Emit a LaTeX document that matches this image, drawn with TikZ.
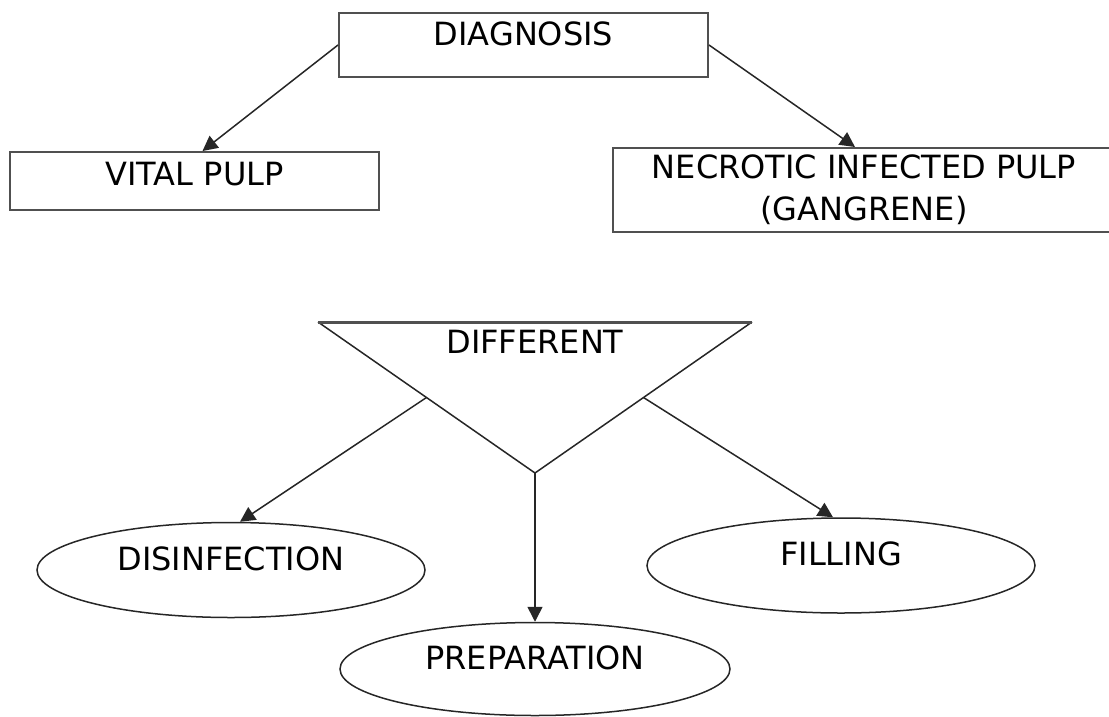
\documentclass[tikz,border=0pt]{standalone}
\usepackage{fontspec}
\setmainfont{DejaVu Sans}
\usetikzlibrary{arrows.meta,positioning,calc,shapes.geometric}
\definecolor{inkline}{HTML}{262626}
\definecolor{boxline}{HTML}{505050}
\tikzset{
  box/.style={draw=boxline, line width=2pt, rectangle, inner sep=0pt, align=center,
              font=\fontsize{32}{42}\selectfont},
  oval/.style={draw=inkline, line width=1.5pt, ellipse, inner sep=0pt,
               minimum width=388pt, minimum height=95pt, text height=24pt, text depth=24pt,
               font=\fontsize{32}{42}\selectfont},
  flow/.style={-{Triangle[length=15pt,width=15pt]}, line width=1.5pt, inkline},
}

\begin{document}
\begin{tikzpicture}[x=1pt, y=-1pt]
    \useasboundingbox (0,0) rectangle (1109,716);

    % diagnosis and the two pulp states
    \node[box, minimum width=369pt, minimum height=64pt, text height=24pt, text depth=24pt] (diag) at (523.5,45) {DIAGNOSIS};
    \node[box, minimum width=369pt, minimum height=58pt, text height=24pt, text depth=16pt] (vital) at (194.5,181) {VITAL PULP};
    \node[box, minimum width=502pt, minimum height=84pt] (necro) at (864,190) {NECROTIC INFECTED PULP\\(GANGRENE)};
    \draw[flow] (diag.west) -- ($(vital.north)+(8,0)$);
    \draw[flow] (diag.east) -- ($(necro.north)+(-9,0)$);

    % "different" triangle
    \coordinate (tl) at (318,322);
    \coordinate (tr) at (752,322);
    \coordinate (apex) at (535,473);
    \draw[inkline, line width=1.5pt] (tl) -- (apex) -- (tr);
    \draw[boxline, line width=3pt] (tl) -- (tr);
    \node[font=\fontsize{32}{42}\selectfont, anchor=base] (diff) at (535,353) {DIFFERENT};
    \coordinate (diffL) at ($(tl)!0.5!(apex)$);
    \coordinate (diffR) at ($(tr)!0.5!(apex)$);

    % treatment steps
    \node[oval] (disinf) at (231,570) {DISINFECTION};
    \node[oval] (filling) at (841,565.5) {FILLING};
    \node[oval, minimum width=390pt, minimum height=93pt] (prep) at (535,669) {PREPARATION};
    \draw[flow] (diffL) -- ($(disinf.north)+(9,0)$);
    \draw[flow] (diffR) -- ($(filling.north)+(-8,0)$);
    \draw[flow] (apex) -- (prep.north);
\end{tikzpicture}
\end{document}
